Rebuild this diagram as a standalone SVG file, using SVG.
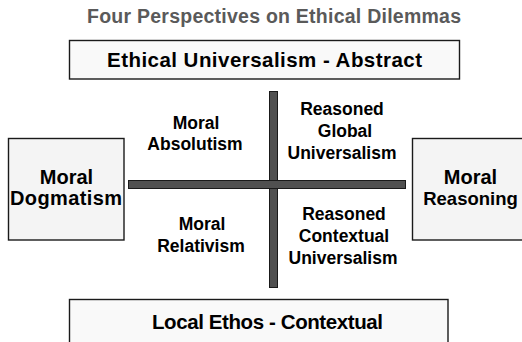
<svg xmlns="http://www.w3.org/2000/svg" width="522" height="342" viewBox="0 0 522 342">
  <style>
    text { font-family: "Liberation Sans", Arial, sans-serif; font-weight: bold; }
    .title { font-size: 19.5px; fill: #5a5a5a; }
    .band rect { fill: #f9f9f9; stroke: #1a1a1a; stroke-width: 1.4; }
    .band text { font-size: 20.5px; fill: #000; text-anchor: middle; }
    .side rect { fill: #f4f4f4; stroke: #1a1a1a; stroke-width: 1.4; }
    .side text { font-size: 20px; fill: #000; text-anchor: middle; }
    .side text.fit { font-size: 18.5px; }
    .quad text { font-size: 17.5px; fill: #000; text-anchor: middle; }
    .axis { fill: #505050; stroke: #1a1a1a; stroke-width: 1; }
  </style>

  <text class="title" x="87" y="23" textLength="374" lengthAdjust="spacing">Four Perspectives on Ethical Dilemmas</text>

  <!-- axes -->
  <g id="axes">
    <rect class="axis" x="269.5" y="91.5" width="8" height="196"/>
    <rect class="axis" x="128.5" y="180.5" width="277" height="8"/>
  </g>

  <!-- vertical extremes -->
  <g id="ethical-universalism" class="band">
    <rect x="69.5" y="40.5" width="390" height="38.5"/>
    <text x="264.5" y="67" textLength="315" lengthAdjust="spacing">Ethical Universalism - Abstract</text>
  </g>
  <g id="local-ethos" class="band">
    <rect x="69.5" y="299.5" width="378.5" height="50"/>
    <text x="267.5" y="329" textLength="231" lengthAdjust="spacing">Local Ethos - Contextual</text>
  </g>

  <!-- horizontal extremes -->
  <g id="moral-dogmatism" class="side">
    <rect x="8.5" y="138.5" width="115.5" height="101.5"/>
    <text x="66.5" y="184">Moral</text>
    <text x="66" y="205" textLength="112" lengthAdjust="spacing">Dogmatism</text>
  </g>
  <g id="moral-reasoning" class="side">
    <rect x="412.5" y="138.5" width="115" height="101.5"/>
    <text x="470.5" y="184">Moral</text>
    <text class="fit" x="470.5" y="205">Reasoning</text>
  </g>

  <!-- quadrants -->
  <g id="moral-absolutism" class="quad">
    <text x="196" y="129">Moral</text>
    <text x="195" y="150">Absolutism</text>
  </g>
  <g id="reasoned-global-universalism" class="quad">
    <text x="342" y="115">Reasoned</text>
    <text x="345" y="137">Global</text>
    <text x="342" y="159">Universalism</text>
  </g>
  <g id="moral-relativism" class="quad">
    <text x="202" y="230">Moral</text>
    <text x="201" y="252">Relativism</text>
  </g>
  <g id="reasoned-contextual-universalism" class="quad">
    <text x="344" y="220">Reasoned</text>
    <text x="344" y="242">Contextual</text>
    <text x="343" y="264">Universalism</text>
  </g>
</svg>
